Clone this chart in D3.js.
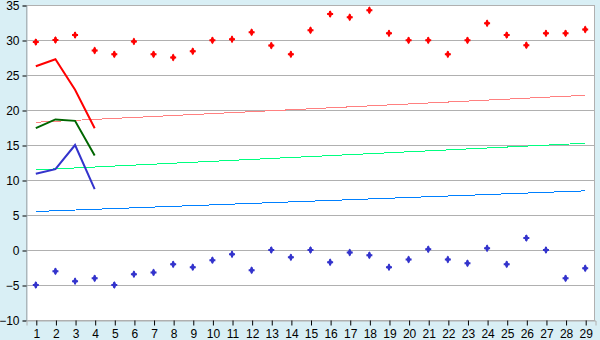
<!DOCTYPE html>
<html>
<head>
  <script src="https://cdn.jsdelivr.net/npm/d3@7"></script>
  <style>
    body { margin: 0; background: #d9eff5; font-family: "DejaVu Sans", Verdana, sans-serif; }
    svg text { font-size: 12px; fill: #000; }
  </style>
</head>
<body>
  <div id="chart"></div>
  <script>
    const days = d3.range(1, 30);

    const highPoints = [29.7, 30.0, 30.7, 28.5, 27.95, 29.8, 27.95, 27.5, 28.4, 29.95,
      30.1, 31.1, 29.2, 27.95, 31.4, 33.7, 33.25, 34.25, 30.95, 29.95,
      29.95, 27.95, 29.95, 32.4, 30.7, 29.25, 30.95, 30.95, 31.5];
    const lowPoints = [-5.0, -3.05, -4.45, -4.05, -5.0, -3.45, -3.2, -2.05, -2.45, -1.45,
      -0.6, -2.9, 0.0, -1.05, 0.0, -1.75, -0.35, -0.75, -2.45, -1.35,
      0.1, -1.35, -1.9, 0.25, -2.05, 1.7, 0.0, -4.05, -2.6];

    const redLine = [26.25, 27.25, 22.9, 17.4];
    const greenLine = [17.4, 18.65, 18.45, 13.5];
    const blueLine = [10.9, 11.55, 15.0, 8.7];

    // trend lines: value at day 1 and at day 29
    const trends = [
      { color: "#ff8080", values: [18.25, 22.1] },
      { color: "#00ff80", values: [11.45, 15.25] },
      { color: "#0080ff", values: [5.5, 8.45] }
    ];

    const yTicks = d3.range(-10, 36, 5);

    const W = 600, H = 340;
    const m = { left: 26, right: 595, top: 5, bottom: 320 };

    const svg = d3.select("#chart").append("svg")
      .attr("width", W).attr("height", H);

    svg.append("rect").attr("width", W).attr("height", H).attr("fill", "#d9eff5");

    const x = d3.scalePoint().domain(days).range([m.left, m.right]).padding(0.5);
    const y = d3.scaleLinear().domain([-10, 35]).range([m.bottom, m.top]);

    svg.append("rect")
      .attr("x", m.left).attr("y", m.top)
      .attr("width", m.right - m.left).attr("height", m.bottom - m.top)
      .attr("fill", "#fff");

    // grid
    svg.append("g").selectAll("line").data(yTicks).join("line")
      .attr("x1", m.left).attr("x2", m.right)
      .attr("y1", d => Math.round(y(d)) + 0.5).attr("y2", d => Math.round(y(d)) + 0.5)
      .attr("stroke", "#b0b0b0");

    // border right/top
    svg.append("rect")
      .attr("x", m.left + 0.5).attr("y", m.top + 0.5)
      .attr("width", m.right - m.left - 1).attr("height", m.bottom - m.top)
      .attr("fill", "none").attr("stroke", "#b0b0b0");

    // y axis
    const yAxis = svg.append("g")
      .attr("transform", `translate(${m.left + 0.5},0.5)`)
      .call(d3.axisLeft(y).tickValues(yTicks).tickSize(4).tickPadding(3).tickFormat(d => d < 0 ? "\u2212" + Math.abs(d) : d));
    yAxis.select(".domain").attr("stroke", "#a9bcc4");
    yAxis.selectAll(".tick line").attr("stroke", "#000");
    yAxis.selectAll("text").style("font-size", "12px");

    // x axis
    const xAxis = svg.append("g")
      .attr("transform", `translate(0.5,${m.bottom + 0.5})`)
      .call(d3.axisBottom(x).tickSize(5).tickPadding(4));
    xAxis.select(".domain").attr("stroke", "#b0b0b0");
    xAxis.selectAll(".tick line").attr("stroke", "#000");
    xAxis.selectAll("text").style("font-size", "12px");

    // trend lines
    trends.forEach(t => {
      svg.append("line")
        .attr("x1", x(1)).attr("x2", x(29))
        .attr("y1", y(t.values[0])).attr("y2", y(t.values[1]))
        .attr("stroke", t.color).attr("stroke-width", 1)
        .attr("shape-rendering", "crispEdges");
    });

    const line = d3.line().x((d, i) => x(days[i])).y(d => y(d));
    [[redLine, "#ff0000"], [greenLine, "#006600"], [blueLine, "#3333cc"]].forEach(([vals, c]) => {
      svg.append("path").datum(vals)
        .attr("d", line).attr("fill", "none")
        .attr("stroke", c).attr("stroke-width", 2);
    });

    const cross = d3.symbol().type(d3.symbolCross).size(20);
    const diamond = d3.symbol().type(d3.symbolDiamond).size(18);
    [[highPoints, "#ff0000"], [lowPoints, "#3333cc"]].forEach(([vals, c]) => {
      const g = svg.append("g").selectAll("g").data(vals).join("g")
        .attr("transform", (d, i) => `translate(${x(days[i])},${y(d)})`)
        .attr("fill", c);
      g.append("path").attr("d", cross);
      g.append("path").attr("d", diamond);
    });
  </script>
</body>
</html>
